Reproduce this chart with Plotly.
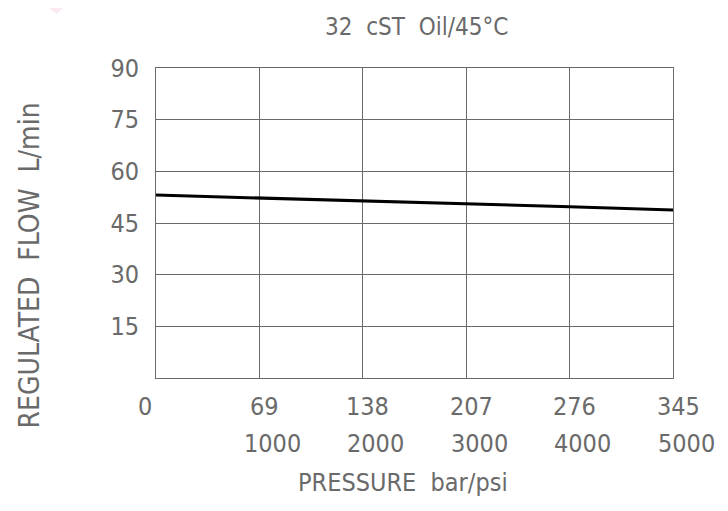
import plotly.graph_objects as go

pressure_bar = [0, 69, 138, 207, 276, 345]
flow_lpm = [53.1, 52.3, 51.3, 50.5, 49.7, 48.8]

x_ticks = [69, 138, 207, 276, 345]
x_tick_bar = ["69", "138", "207", "276", "345"]
x_tick_psi = ["1000", "2000", "3000", "4000", "5000"]
y_ticks = [15, 30, 45, 60, 75, 90]

title_text = "32  cST  Oil/45°C"
x_title = "PRESSURE  bar/psi"
y_title = "REGULATED  FLOW  L/min"

FONT = "DejaVu Sans Condensed, DejaVu Sans, sans-serif"
TXT = "#6a6a6a"
GRID = "#6a6a6a"

fig = go.Figure()
fig.add_trace(go.Scatter(x=pressure_bar, y=flow_lpm, mode="lines",
                         line=dict(color="black", width=3), showlegend=False,
                         hoverinfo="skip"))

def ann(x, text, xref="x", y=0, xshift=0, yshift=0, size=25, **kw):
    return dict(x=x, y=y, xref=xref, yref="paper", text=text, showarrow=False,
                xanchor="center", yanchor="middle", xshift=xshift, yshift=yshift,
                font=dict(family=FONT, size=size, color=TXT), **kw)

annotations = [ann(0, "0", xshift=-11, yshift=-28)]
for xv, a, b in zip(x_ticks, x_tick_bar, x_tick_psi):
    annotations.append(ann(xv, a, xshift=5, yshift=-28))
    annotations.append(ann(xv, b, xshift=13, yshift=-65))
annotations.append(ann(0.478, x_title, xref="paper", yshift=-104, size=25))
annotations.append(ann(0.503, title_text, xref="paper", y=1, yshift=41, size=24))
annotations.append(ann(0, y_title, xref="paper", y=0.363, xshift=-127, size=28,
                       textangle=-90))

fig.update_layout(
    width=720, height=503,
    margin=dict(l=147.5, r=55, t=59.6, b=133.4),
    paper_bgcolor="white", plot_bgcolor="white",
    annotations=annotations,
    shapes=[dict(type="path", xref="paper", yref="paper",
                 path="M -0.207 1.194 L -0.179 1.194 L -0.193 1.174 Z",
                 fillcolor="#fbe9f3", line=dict(width=0), layer="below")],
)
fig.update_xaxes(range=[0, 345], tickvals=x_ticks, showticklabels=False,
                 showgrid=True, gridcolor=GRID, gridwidth=1, zeroline=False,
                 showline=True, linecolor=GRID, linewidth=1, mirror=True, ticks="")
fig.update_yaxes(range=[0, 90], tickvals=y_ticks, ticktext=[str(v) for v in y_ticks],
                 showgrid=True, gridcolor=GRID, gridwidth=1, zeroline=False,
                 showline=True, linecolor=GRID, linewidth=1, mirror=True, ticks="",
                 ticklabelstandoff=11,
                 tickfont=dict(family=FONT, size=25, color=TXT))

fig.write_html("out.html")
